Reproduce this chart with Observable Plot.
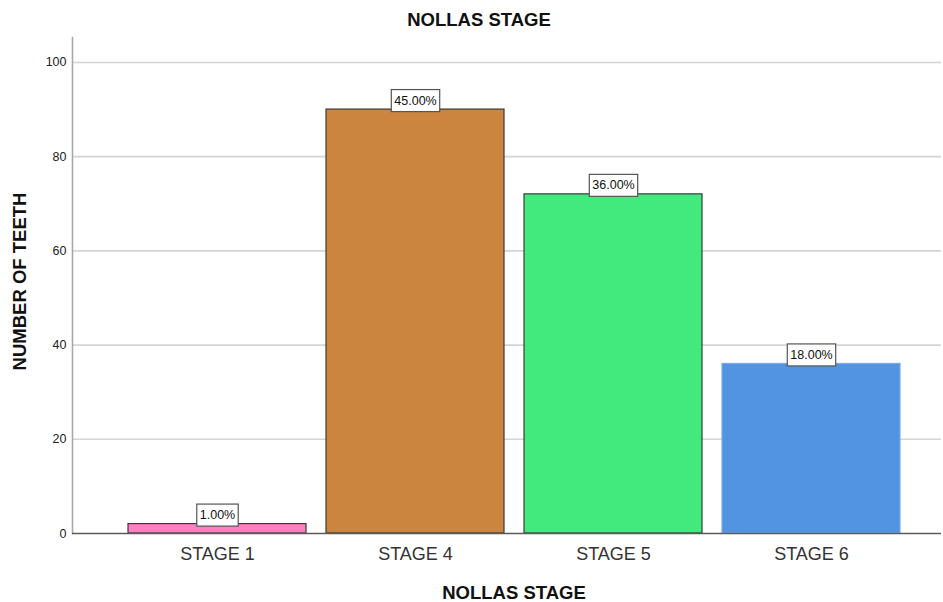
<!DOCTYPE html>
<html>
<head>
<meta charset="utf-8">
<script src="https://cdn.jsdelivr.net/npm/d3@7"></script>
<script src="https://cdn.jsdelivr.net/npm/@observablehq/plot@0.6"></script>
<style>
  body { margin: 0; background: #fff; }
  svg { font-family: "Liberation Sans", Arial, sans-serif; }
</style>
</head>
<body>
<div id="chart"></div>
<script>
const title = "NOLLAS STAGE";
const xLabel = "NOLLAS STAGE";
const yLabel = "NUMBER OF TEETH";
const stages = ["STAGE 1", "STAGE 4", "STAGE 5", "STAGE 6"];
const counts = [2, 90, 72, 36];
const percents = ["1.00%", "45.00%", "36.00%", "18.00%"];
const yTicks = [0, 20, 40, 60, 80, 100];
const fillColors = ["#ff80c0", "#cc853f", "#42ea7e", "#5294e2"];
const strokeColors = ["#3a3a3a", "#3a3a3a", "#3a3a3a", "#79aaea"];

const data = stages.map((s, i) => ({stage: s, count: counts[i], pct: percents[i]}));

const plot = Plot.plot({
  width: 943,
  height: 602,
  marginLeft: 72,
  marginRight: 2,
  marginTop: 37,
  marginBottom: 69,
  style: {fontFamily: "Liberation Sans, Arial, sans-serif", background: "#fff"},
  x: {domain: stages, paddingInner: 0.102, paddingOuter: 0.242, align: 0.573, label: null},
  y: {domain: [0, 105.3], label: null},
  color: {domain: stages, range: fillColors},
  marks: [
    Plot.gridY(yTicks.filter(t => t > 0), {stroke: "#d4d4d4", strokeOpacity: 1, strokeWidth: 1.6}),
    Plot.frame({anchor: "left", stroke: "#a8a8a8", strokeWidth: 1.6}),
    Plot.barY(data, {x: "stage", y: "count", fill: "stage", stroke: (d, i) => strokeColors[i], strokeWidth: 1.2}),
    Plot.ruleY([0], {stroke: "#5a5a5a", strokeWidth: 1.4}),
    Plot.axisY({ticks: yTicks, tickSize: 0, tickPadding: 6, fontSize: 12.5, fill: "#222", label: null}),
    Plot.axisX({tickSize: 0, tickPadding: 14, fontSize: 18, fill: "#333", label: null}),
    Plot.text(data, {x: "stage", y: "count", text: "pct", dy: -9, fontSize: 12.5, fill: "#111", lineAnchor: "middle", className: "pctlabel"}),
    Plot.text([title], {frameAnchor: "top", textAnchor: "middle", lineAnchor: "middle", dy: -17, dx: -28, fontSize: 18.5, fontWeight: "bold", fill: "#111", text: d => d}),
    Plot.text([xLabel], {frameAnchor: "bottom", textAnchor: "middle", lineAnchor: "middle", dy: 60, dx: 7, fontSize: 18.5, fontWeight: "bold", fill: "#111", text: d => d}),
    Plot.text([yLabel], {frameAnchor: "left", textAnchor: "middle", dx: -52, dy: -4, rotate: -90, fontSize: 18.5, fontWeight: "bold", fill: "#111", text: d => d})
  ]
});

document.getElementById("chart").appendChild(plot);

// Boxes behind the percentage labels, sized from the rendered text
d3.select(plot).selectAll("g.pctlabel text").each(function() {
  const bb = this.getBBox();
  const r = document.createElementNS("http://www.w3.org/2000/svg", "rect");
  r.setAttribute("x", bb.x - 3);
  r.setAttribute("y", bb.y - 4);
  r.setAttribute("width", bb.width + 6);
  r.setAttribute("height", bb.height + 8);
  r.setAttribute("fill", "#fff");
  r.setAttribute("stroke", "#555");
  r.setAttribute("stroke-width", "1.2");
  const t = this.getAttribute("transform");
  if (t) r.setAttribute("transform", t);
  this.parentNode.insertBefore(r, this);
});
</script>
</body>
</html>
